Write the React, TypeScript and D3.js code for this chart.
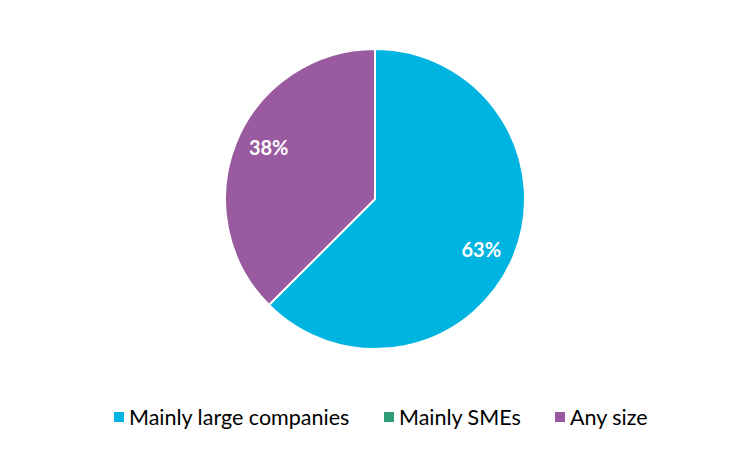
import React, { useEffect, useRef } from "react";
import * as d3 from "d3";

const categories = ["Mainly large companies", "Mainly SMEs", "Any size"];
const shares = [62.5, 0, 37.5];
const colors = ["#00B4E1", "#2E9C78", "#995AA0"];

const width = 750;
const height = 450;

export default function App() {
  const svgRef = useRef<SVGSVGElement>(null);

  useEffect(() => {
    if (!svgRef.current) return;
    const svg = d3.select(svgRef.current);
    svg.selectAll("*").remove();

    const cx = 375;
    const cy = 199;
    const radius = 150;

    const data = categories.map((c, i) => ({ label: c, value: shares[i], color: colors[i] }));
    const pie = d3
      .pie<(typeof data)[number]>()
      .sort(null)
      .value((d) => d.value);
    const arcs = pie(data);

    const arc = d3.arc<d3.PieArcDatum<(typeof data)[number]>>().innerRadius(0).outerRadius(radius);

    const g = svg.append("g").attr("transform", `translate(${cx},${cy})`);

    g.selectAll("path")
      .data(arcs.filter((a) => a.value > 0))
      .enter()
      .append("path")
      .attr("d", arc)
      .attr("fill", (d) => d.data.color)
      .attr("stroke", "#fff")
      .attr("stroke-width", 2)
      .attr("stroke-linejoin", "round");

    // Labels, placed a little past the mid angle like Excel's best fit
    const labelR = radius * 0.785;
    const shift = (3 * Math.PI) / 180;
    g.selectAll("text.pct")
      .data(arcs.filter((a) => a.value > 0))
      .enter()
      .append("text")
      .attr("class", "pct")
      .attr("transform", (d) => {
        const a = (d.startAngle + d.endAngle) / 2 + shift;
        return `translate(${labelR * Math.sin(a)},${-labelR * Math.cos(a)})`;
      })
      .attr("text-anchor", "middle")
      .attr("dy", "0.35em")
      .attr("fill", "#fff")
      .attr("font-family", "Lato, 'Open Sans', sans-serif")
      .attr("font-weight", "bold")
      .attr("font-size", 20)
      .text((d) => `${Math.round(d.value)}%`);

    // Legend
    const legendX = [114, 384, 555];
    const legend = svg
      .append("g")
      .selectAll("g")
      .data(data)
      .enter()
      .append("g")
      .attr("transform", (d, i) => `translate(${legendX[i]}, 417)`);

    legend
      .append("rect")
      .attr("x", 0)
      .attr("y", -5)
      .attr("width", 10)
      .attr("height", 10)
      .attr("fill", (d) => d.color);

    legend
      .append("text")
      .attr("x", 15)
      .attr("y", 8)
      .attr("fill", "#000")
      .attr("font-family", "Lato, 'Open Sans', sans-serif")
      .attr("font-size", 21.5)
      .text((d) => d.label);
  }, []);

  return (
    <svg
      ref={svgRef}
      width={width}
      height={height}
      viewBox={`0 0 ${width} ${height}`}
      style={{ display: "block", margin: "-8px", background: "#fff" }}
    />
  );
}
